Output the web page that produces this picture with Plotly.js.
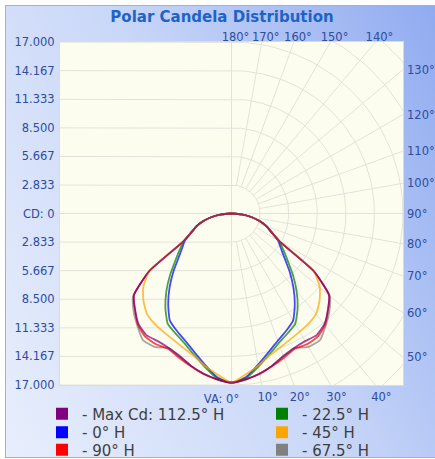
<!DOCTYPE html>
<html><head><meta charset="utf-8">
<script src="https://cdn.plot.ly/plotly-3.0.1.min.js"></script>
<style>
html,body{margin:0;padding:0;background:#ffffff;}
#wrap{position:relative;width:435px;height:459px;overflow:hidden;}
#bg{position:absolute;left:5px;top:5px;width:436px;height:451px;border:1px solid #98b0ec;
background:linear-gradient(63deg,#e8eefc 0%,#c9d7f8 50%,#8faaf0 100%);}
#chart{position:absolute;left:0;top:0;width:435px;height:459px;}
</style>
</head><body><div id="wrap"><div id="bg"></div><div id="chart"></div></div>
<script>
// Vertical angles (deg) for which candela values are given
const VA = [0,5,10,15,20,25,30,35,40,45,50,55,60,65,70,75,80,85,90];
// Candela values per series (symmetric about the nadir)
const cdMax112 = [16770,16500,16110,15610,15060,14710,14610,14710,14320,13520,12630,9940,5470,4370,3680,2880,1990,990,0];
const cdH0     = [16770,16300,15210,14220,13420,12830,12230,10940,9540,8150,6860,5970,5320,4370,3680,2880,1990,990,0];
const cdH90    = [16770,16500,16160,15660,15210,14810,14960,14910,14420,13520,12630,9940,5470,4370,3680,2880,1990,990,0];
const cdH22    = [16770,16400,15410,14470,13670,13120,12630,11430,10040,8600,7260,6260,5420,4370,3680,2880,1990,990,0];
const cdH45    = [16770,16010,15310,14570,14120,13770,13520,13320,13020,12330,11430,9940,5470,4370,3680,2880,1990,990,0];
const cdH67    = [16770,16500,16110,15610,15010,14710,15260,15310,14520,13720,12730,9940,5470,4370,3680,2880,1990,990,0];
const seriesNames = ['- Max Cd: 112.5° H','- 0° H','- 90° H','- 22.5° H','- 45° H','- 67.5° H'];

// Axis ticks
const cdMaxScale = 17000;
const cdTickVals = [17000,14166.67,11333.33,8500,5666.67,2833.33,0,-2833.33,-5666.67,-8500,-11333.33,-14166.67,-17000];
const cdTickText = ['17.000','14.167','11.333','8.500','5.667','2.833','CD: 0','2.833','5.667','8.500','11.333','14.167','17.000'];
const nadirVA = [0];
const nadirText = ['VA: 0°'];
const bottomVA = [10,20,30,40];
const bottomText = ['10°','20°','30°','40°'];
const topVA = [180,170,160,150,140];
const topText = ['180°','170°','160°','150°','140°'];
const rightVA = [130,120,110,100,90,80,70,60,50];
const rightText = ['130°','120°','110°','100°','90°','80°','70°','60°','50°'];

const seriesData = [cdMax112, cdH0, cdH90, cdH22, cdH45, cdH67];
const colors = ['#800080','#0000ff','#ff0000','#008000','#ffa500','#808080'];
const drawOrder = [5,1,3,2,4,0];

const FONT = 'DejaVu Sans';
const tickColor = '#2d4d9f';
const gridColor = '#e2e2da';
const R = cdMaxScale;
const rad = d => d*Math.PI/180;

const traces = [];
// grid: left horizontals joined to right-hand arcs
const gx = [], gy = [];
const step = R/6;
for (let k=1;k<=8;k++){
  const r = k*step;
  gx.push(-1.3*R); gy.push(r);
  for (let a=180;a>=0;a-=2){ gx.push(r*Math.sin(rad(a))); gy.push(-r*Math.cos(rad(a))); }
  gx.push(-1.3*R); gy.push(-r);
  gx.push(null); gy.push(null);
}
for (let a=10;a<=170;a+=10){
  if (a===90) continue;
  gx.push(step*Math.sin(rad(a))); gy.push(-step*Math.cos(rad(a)));
  gx.push(3*R*Math.sin(rad(a))); gy.push(-3*R*Math.cos(rad(a)));
  gx.push(null); gy.push(null);
}
traces.push({type:'scatter',x:gx,y:gy,mode:'lines',line:{color:gridColor,width:1},hoverinfo:'skip',showlegend:false,xaxis:'x',yaxis:'y'});
// dummy traces to realise secondary axes
traces.push({type:'scatter',x:[null],y:[null],xaxis:'x2',yaxis:'y',showlegend:false,hoverinfo:'skip'});
traces.push({type:'scatter',x:[null],y:[null],xaxis:'x3',yaxis:'y',showlegend:false,hoverinfo:'skip'});
traces.push({type:'scatter',x:[null],y:[null],xaxis:'x',yaxis:'y2',showlegend:false,hoverinfo:'skip'});

// curves
drawOrder.forEach(i=>{
  const vals = seriesData[i];
  const theta = VA.concat(VA.slice().reverse().map(v=>-v));
  const r = vals.concat(vals.slice().reverse());
  traces.push({type:'scatterpolar',subplot:'polar',theta:theta,r:r,mode:'lines',
    line:{color:colors[i],width:1.8,shape:'spline',smoothing:0.5},opacity:0.72,
    showlegend:false,hoverinfo:'skip'});
});

// legend entries
const legendIds = ['legend','legend2','legend3','legend4','legend5','legend6'];
seriesNames.forEach((nm,i)=>{
  traces.push({type:'scatter',x:[null],y:[null],mode:'markers',name:nm,
    marker:{symbol:'square',size:12,color:colors[i]},legend:legendIds[i],showlegend:true,hoverinfo:'skip'});
});

const W=435,H=459;
const legendRowsY = [414,432.5,450];
const legendColsX = [64,284];
const legends = {};
legendIds.forEach((id,i)=>{
  const col = Math.floor(i/3), row = i%3;
  legends[id] = {x:(legendColsX[col]-22)/W, xref:'container', xanchor:'left',
    y:1-legendRowsY[row]/H, yref:'container', yanchor:'middle',
    bgcolor:'rgba(0,0,0,0)', font:{family:FONT,size:15,color:'#3f3f3f'}, itemwidth:30};
});

const tickFont = {family:FONT,size:11.5,color:tickColor};
const layout = Object.assign({
  width:W,height:H,
  paper_bgcolor:'rgba(0,0,0,0)', plot_bgcolor:'#fdfdef',
  margin:{l:60,r:32,t:42,b:74,autoexpand:false},
  title:{text:'Polar Candela Distribution',font:{family:FONT,size:15,color:'#1f63c4',weight:'bold'},
    x:222/W,xref:'container',xanchor:'center',y:1-17/H,yref:'container',yanchor:'middle'},
  xaxis:{range:[-R,R],showgrid:false,zeroline:true,zerolinecolor:gridColor,zerolinewidth:1,
    showline:true,mirror:true,linecolor:'#dcdcd2',linewidth:1,ticks:'',tickangle:0,
    tickvals:nadirVA.map(a=>R*Math.tan(rad(a))),ticktext:nadirText,tickfont:tickFont,
    ticklabelshift:-10,ticklabelstandoff:3,fixedrange:true},
  xaxis3:{range:[-R,R],overlaying:'x',side:'bottom',anchor:'y',showgrid:false,zeroline:false,showline:false,ticks:'',tickangle:0,
    tickvals:bottomVA.map(a=>R*Math.tan(rad(a))),ticktext:bottomText,tickfont:tickFont,
    ticklabelshift:6,ticklabelstandoff:3,fixedrange:true},
  xaxis2:{range:[-R,R],overlaying:'x',side:'top',anchor:'y',showgrid:false,zeroline:false,showline:false,ticks:'',tickangle:0,
    tickvals:topVA.map(a=>R*Math.tan(rad(180-a))),ticktext:topText,tickfont:tickFont,
    ticklabelshift:4,ticklabelstandoff:-2,fixedrange:true},
  yaxis:{range:[-R,R],showgrid:false,zeroline:true,zerolinecolor:gridColor,zerolinewidth:1,
    showline:true,mirror:true,linecolor:'#dcdcd2',linewidth:1,ticks:'',
    tickvals:cdTickVals,ticktext:cdTickText,tickfont:tickFont,ticklabelstandoff:2,fixedrange:true},
  yaxis2:{range:[-R,R],overlaying:'y',side:'right',anchor:'x',showgrid:false,zeroline:false,showline:false,ticks:'',
    tickvals:rightVA.map(a=>-R/Math.tan(rad(a))),ticktext:rightText,tickfont:tickFont,
    ticklabelstandoff:3,fixedrange:true},
  polar:{domain:{x:[0,1],y:[0,1]},bgcolor:'rgba(0,0,0,0)',
    radialaxis:{visible:false,range:[0,R]},
    angularaxis:{visible:false,rotation:-90,direction:'counterclockwise'}},
  showlegend:true
}, legends);

Plotly.newPlot('chart',traces,layout,{displayModeBar:false,staticPlot:true});
</script>
</body></html>
